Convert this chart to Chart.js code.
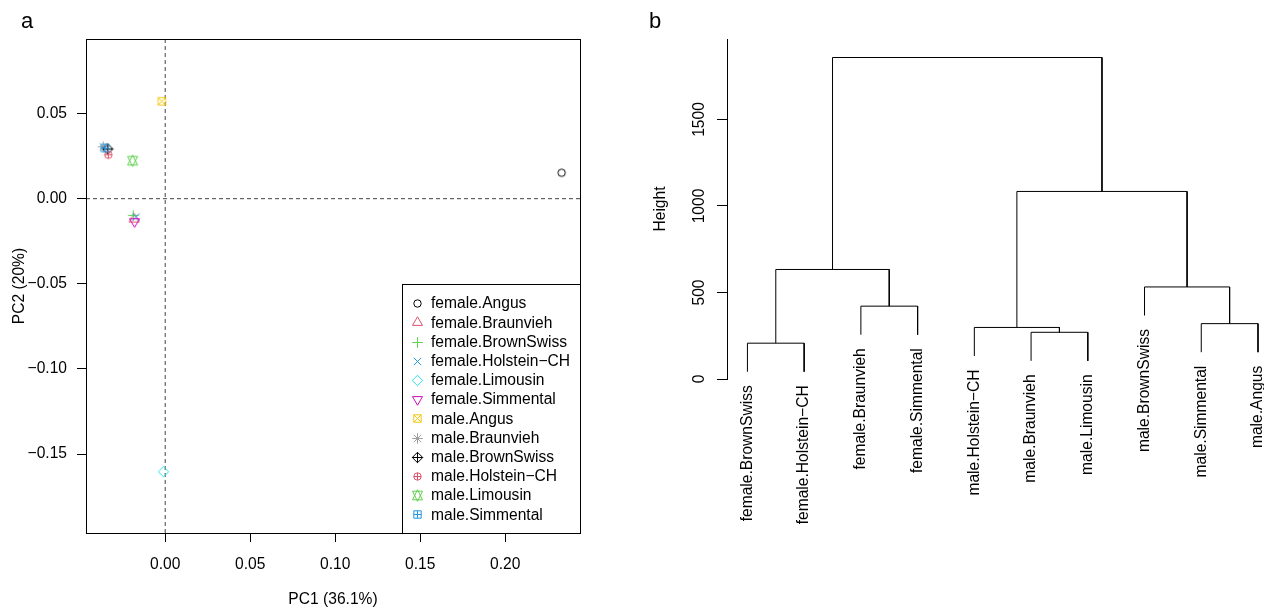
<!DOCTYPE html>
<html><head><meta charset="utf-8">
<script src="https://cdn.jsdelivr.net/npm/chart.js@4.4.0/dist/chart.umd.min.js"></script>
<style>
html,body{margin:0;padding:0;background:#fff;width:1264px;height:611px;overflow:hidden}
#wa{position:absolute;left:0;top:0;width:640px;height:611px}
#wb{position:absolute;left:640px;top:0;width:624px;height:611px}
</style></head><body>
<div id="wa"><canvas id="ca"></canvas></div>
<div id="wb"><canvas id="cb"></canvas></div>
<script>
// ---------- Panel a: PCA ----------
const groups = ["female.Angus","female.Braunvieh","female.BrownSwiss","female.Holstein−CH","female.Limousin","female.Simmental","male.Angus","male.Braunvieh","male.BrownSwiss","male.Holstein−CH","male.Limousin","male.Simmental"];
const pc1 = [0.2332, -0.0183, -0.0188, -0.0172, -0.0010, -0.0180, -0.0020, -0.0365, -0.0338, -0.0335, -0.0192, -0.0355];
const pc2 = [0.0152, -0.0120, -0.0098, -0.0108, -0.1604, -0.0135, 0.0572, 0.0305, 0.0292, 0.0258, 0.0223, 0.0298];
const pchCodes = [1,2,3,4,5,6,7,8,9,10,11,12];
const colours = ["#000000","#DF536B","#61D04F","#2297E6","#28E2E5","#CD0BBC","#F5C710","#9E9E9E","#000000","#DF536B","#61D04F","#2297E6"];
const xTickValues = [0, 0.05, 0.10, 0.15, 0.20];
const xTickLabels = ["0.00","0.05","0.10","0.15","0.20"];
const yTickValues = [-0.15, -0.10, -0.05, 0, 0.05];
const yTickLabels = ["−0.15","−0.10","−0.05","0.00","0.05"];
const xTitle = "PC1 (36.1%)";
const yTitle = "PC2 (20%)";
const xRange = [-0.0466, 0.2440];
const yRange = [-0.1964, 0.0938];

// ---------- Panel b: dendrogram ----------
const leafLabels = ["female.BrownSwiss","female.Holstein−CH","female.Braunvieh","female.Simmental","male.Holstein−CH","male.Braunvieh","male.Limousin","male.BrownSwiss","male.Simmental","male.Angus"];
// R-style merge matrix: negative = leaf (position in leafLabels), positive = earlier merge
const mergeA = [-1, -3, 1, -6, -5, -9, -8, 5, 3];
const mergeB = [-2, -4, 2, -7, 4, -10, 6, 7, 8];
const mergeHeights = [207, 421, 633, 270, 298, 320, 532, 1084, 1858];
const heightTicks = [0, 500, 1000, 1500];
const heightTickLabels = ["0","500","1000","1500"];
const hangFraction = 0.1;

const FONT = "'Liberation Sans', Arial, Helvetica, sans-serif";
const FS = 15.6;
Chart.defaults.font.family = FONT;
Chart.defaults.font.size = FS;
Chart.defaults.color = '#000';

// R plotting symbols as small canvases
function makeSymbol(pch, col, R) {
  const S = 15, c = 7.5;
  const cv = document.createElement('canvas'); cv.width = S; cv.height = S;
  const g = cv.getContext('2d');
  g.strokeStyle = col; g.lineWidth = 1;
  const line = (x1,y1,x2,y2) => { g.beginPath(); g.moveTo(c+x1,c+y1); g.lineTo(c+x2,c+y2); g.stroke(); };
  const poly = (pts) => { g.beginPath(); pts.forEach((p,i)=> i ? g.lineTo(c+p[0],c+p[1]) : g.moveTo(c+p[0],c+p[1])); g.closePath(); g.stroke(); };
  const circ = (r) => { g.beginPath(); g.arc(c,c,r,0,2*Math.PI); g.stroke(); };
  const TRC0 = 1.5551203, TRC1 = TRC0*Math.sqrt(3)/2, TRC2 = TRC0/2;
  const s2 = Math.SQRT2*R;
  const r = TRC0*R, xc = TRC1*R, yc = TRC2*R;
  switch (pch) {
    case 1: circ(R); break;
    case 2: poly([[0,-r],[xc,yc],[-xc,yc]]); break;
    case 3: line(-s2,0,s2,0); line(0,-s2,0,s2); break;
    case 4: line(-R,-R,R,R); line(-R,R,R,-R); break;
    case 5: poly([[0,-s2],[s2,0],[0,s2],[-s2,0]]); break;
    case 6: poly([[0,r],[xc,-yc],[-xc,-yc]]); break;
    case 7: poly([[-R,-R],[R,-R],[R,R],[-R,R]]); line(-R,-R,R,R); line(-R,R,R,-R); break;
    case 8: line(-R,-R,R,R); line(-R,R,R,-R); line(-s2,0,s2,0); line(0,-s2,0,s2); break;
    case 9: poly([[0,-s2],[s2,0],[0,s2],[-s2,0]]); line(-s2,0,s2,0); line(0,-s2,0,s2); break;
    case 10: circ(R); line(-R,0,R,0); line(0,-R,0,R); break;
    case 11: { const y2 = 0.5*(yc + r); poly([[0,-r],[xc,y2],[-xc,y2]]); poly([[0,r],[xc,-y2],[-xc,-y2]]); } break;
    case 12: poly([[-R,-R],[R,-R],[R,R],[-R,R]]); line(-R,0,R,0); line(0,-R,0,R); break;
  }
  return cv;
}
const symbols = pchCodes.map((p,i) => makeSymbol(p, colours[i], 3.7));

const panelA = {
  id: 'panelA',
  afterDraw(chart) {
    const {ctx, chartArea: a} = chart;
    ctx.save();
    ctx.strokeStyle = '#000'; ctx.lineWidth = 1;
    ctx.strokeRect(Math.round(a.left)+0.5, Math.round(a.top)+0.5, Math.round(a.right-a.left), Math.round(a.bottom-a.top));
    // legend
    const lx = 402.5, ly = 284.5, rowH = 19.2, first = 303.6;
    ctx.clearRect(lx+0.5, ly+0.5, Math.round(a.right)-lx-1, Math.round(a.bottom)-ly-1);
    ctx.strokeRect(lx, ly, Math.round(a.right)+0.5-lx, Math.round(a.bottom)+0.5-ly);
    ctx.font = FS + 'px ' + FONT; ctx.fillStyle = '#000';
    ctx.textAlign = 'left'; ctx.textBaseline = 'middle';
    groups.forEach((gname, i) => {
      const y = first + i*rowH;
      const s = symbols[i];
      ctx.drawImage(s, Math.round(417 - s.width/2), Math.round(y - s.height/2));
      ctx.fillText(gname, 431, y + 0.5);
    });
    ctx.font = '22px ' + FONT; ctx.textAlign = 'left'; ctx.textBaseline = 'alphabetic';
    ctx.fillText('a', 21, 28);
    ctx.restore();
  }
};

new Chart(document.getElementById('ca'), {
  type: 'scatter',
  data: { datasets: [
    { data: pc1.map((x,i) => ({x: x, y: pc2[i]})), pointStyle: symbols, pointRadius: 4, pointHoverRadius: 4,
      backgroundColor: 'rgba(0,0,0,0)', borderColor: colours },
    { type: 'line', data: [{x: 0, y: yRange[0]}, {x: 0, y: yRange[1]}], borderColor: '#444', borderWidth: 1,
      borderDash: [4,3], pointRadius: 0, fill: false },
    { type: 'line', data: [{x: xRange[0], y: 0}, {x: xRange[1], y: 0}], borderColor: '#444', borderWidth: 1,
      borderDash: [4,3], pointRadius: 0, fill: false }
  ]},
  options: {
    responsive: true, maintainAspectRatio: false, animation: false, events: [],
    layout: { padding: { left: 0, top: 39, right: 60, bottom: 0 } },
    plugins: { legend: { display: false }, tooltip: { enabled: false } },
    scales: {
      x: { type: 'linear', position: 'bottom', min: xRange[0], max: xRange[1],
        afterBuildTicks: s => { s.ticks = xTickValues.map(v => ({value: v})); },
        afterFit: s => { s.height = 78; },
        grid: { display: true, drawOnChartArea: false, drawTicks: true, tickLength: 9, color: '#000', lineWidth: 1 },
        border: { display: false },
        ticks: { callback: (v, i) => xTickLabels[i], color: '#000', padding: 13, maxRotation: 0, autoSkip: false },
        title: { display: true, text: xTitle, color: '#000', padding: { top: 0, bottom: 2 } } },
      y: { type: 'linear', position: 'left', min: yRange[0], max: yRange[1],
        afterBuildTicks: s => { s.ticks = yTickValues.map(v => ({value: v})); },
        afterFit: s => { s.width = 86; },
        grid: { display: true, drawOnChartArea: false, drawTicks: true, tickLength: 9, color: '#000', lineWidth: 1 },
        border: { display: false },
        ticks: { callback: (v, i) => yTickLabels[i], color: '#000', padding: 10, autoSkip: false },
        title: { display: true, text: yTitle, color: '#000', padding: { top: 10.7, bottom: 0 } } }
    }
  },
  plugins: [panelA]
});

// ---------- dendrogram geometry from merge matrix ----------
const hang = hangFraction * (Math.max(...mergeHeights) - Math.min(...mergeHeights));
const mergeX = [];
const leafBottom = new Array(leafLabels.length).fill(0);
const segments = [];
mergeHeights.forEach((h, k) => {
  const child = (id) => {
    if (id < 0) { const idx = -id - 1; leafBottom[idx] = h - hang; return {x: -id, y: h - hang}; }
    return {x: mergeX[id - 1], y: mergeHeights[id - 1]};
  };
  const A = child(mergeA[k]), B = child(mergeB[k]);
  mergeX[k] = (A.x + B.x) / 2;
  segments.push([{x: A.x, y: A.y}, {x: A.x, y: h}, {x: B.x, y: h}, {x: B.x, y: B.y}]);
});

const panelB = {
  id: 'panelB',
  afterDraw(chart) {
    const {ctx} = chart;
    const xs = chart.scales.x, ys = chart.scales.y;
    ctx.save();
    ctx.fillStyle = '#000';
    ctx.font = FS + 'px ' + FONT;
    // rotated y tick labels
    heightTicks.forEach((v, i) => {
      ctx.save();
      ctx.translate(59.5, ys.getPixelForValue(v));
      ctx.rotate(-Math.PI/2);
      ctx.textAlign = 'center'; ctx.textBaseline = 'middle';
      ctx.fillText(heightTickLabels[i], 0, 0);
      ctx.restore();
    });
    // leaf labels
    leafLabels.forEach((lab, i) => {
      ctx.save();
      ctx.translate(xs.getPixelForValue(i + 1), ys.getPixelForValue(leafBottom[i]) + 13.5);
      ctx.rotate(-Math.PI/2);
      ctx.textAlign = 'right'; ctx.textBaseline = 'middle';
      ctx.fillText(lab, 0, 0);
      ctx.restore();
    });
    ctx.font = '22px ' + FONT; ctx.textAlign = 'left'; ctx.textBaseline = 'alphabetic';
    ctx.fillText('b', 9, 28);
    ctx.restore();
  }
};

new Chart(document.getElementById('cb'), {
  type: 'scatter',
  data: { datasets: segments.map(seg => ({ data: seg, showLine: true, borderColor: '#000', borderWidth: 1,
    pointRadius: 0, tension: 0, fill: false })) },
  options: {
    responsive: true, maintainAspectRatio: false, animation: false, events: [],
    layout: { padding: { left: 0, top: 39, right: 0, bottom: 232 } },
    plugins: { legend: { display: false }, tooltip: { enabled: false } },
    scales: {
      x: { type: 'linear', min: 0.64, max: 10.106, display: false },
      y: { type: 'linear', position: 'left', min: 0, max: 1965,
        afterBuildTicks: s => { s.ticks = heightTicks.map(v => ({value: v})); },
        afterFit: s => { s.width = 87; },
        grid: { display: true, drawOnChartArea: false, drawTicks: true, tickLength: 10, color: '#000', lineWidth: 1 },
        border: { display: true, color: '#000', width: 1 },
        ticks: { display: false },
        title: { display: true, text: 'Height', color: '#000', padding: { top: 11.4, bottom: 0 } } }
    }
  },
  plugins: [panelB]
});
</script>
</body></html>
